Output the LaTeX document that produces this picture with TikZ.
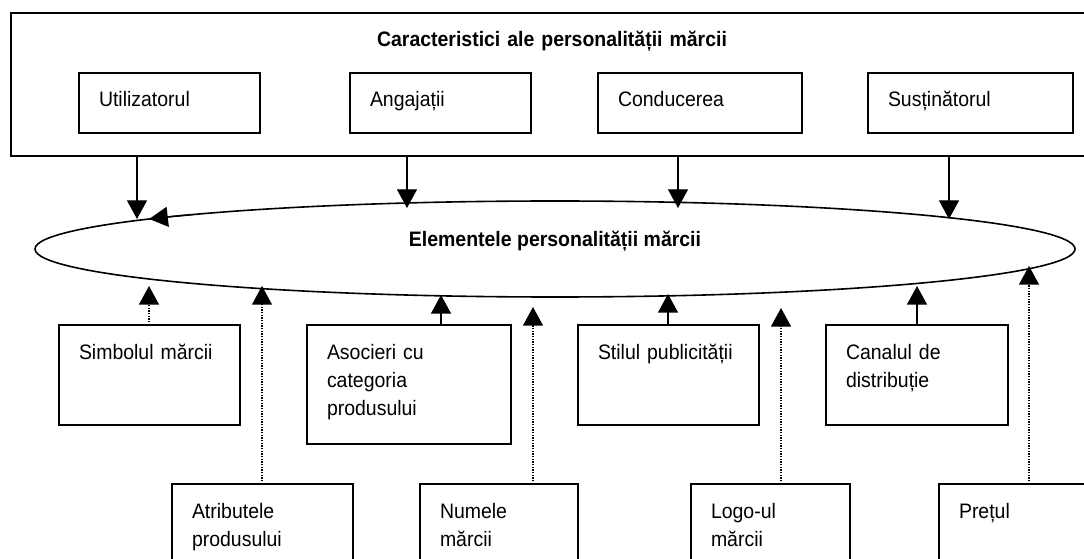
\documentclass[tikz,border=0pt]{standalone}
\usepackage{fontspec}
\setmainfont{Liberation Sans}[FakeStretch=0.93]
\usetikzlibrary{arrows.meta, shapes.geometric}

\begin{document}
\begin{tikzpicture}[x=0.75pt,y=0.75pt,yscale=-1,xscale=1,
  every node/.style={font=\fontsize{15.7pt}{21pt}\selectfont},
  bold/.style={font=\fontsize{15.7pt}{21pt}\selectfont\bfseries},
  box/.style={draw, line width=1.2pt, anchor=north west, align=left, inner xsep=15pt, inner ysep=0pt, outer sep=0pt, text height=25.5pt},
  solidarrow/.style={line width=1pt, -{Triangle[length=14pt,width=15pt]}},
  dotarrow/.style={solidarrow, dash pattern=on 0.9pt off 1.1pt}]
\clip (0,0) rectangle (1084,559);

% Text Node
\node [box, bold, align=center, inner xsep=0pt, text width=811.5pt, text height=25.1pt, text depth=82.15pt] (outer) at (11,13) {Caracteristici ale personalității mărcii};
% Text Node
\node [box, text width=105.75pt, text depth=19.5pt] (util) at (79,73) {Utilizatorul};
% Text Node
\node [box, text width=105.75pt, text depth=19.5pt] (angaj) at (350,73) {Angajații};
% Text Node
\node [box, text width=123pt, text depth=19.5pt] (cond) at (598,73) {Conducerea};
% Text Node
\node [box, text width=123.75pt, text depth=19.5pt] (sust) at (868,73) {Susținătorul};

%Shape: Ellipse
\node [draw, ellipse, line width=1.2pt, minimum width=780pt, minimum height=72pt, inner sep=0pt, outer sep=0pt, text height=10pt, text depth=13pt, bold] (elem) at (555,249) {Elementele personalității mărcii};
\draw [solidarrow] (elem.center) ++(226:520 and 48) arc [start angle=226, end angle=218.7, x radius=520, y radius=48] ;

% Text Node
\node [box, text width=105.75pt, text depth=49.5pt] (simb) at (59,325) {Simbolul mărcii};
% Text Node
\node [box, text width=123pt, text depth=63.75pt] (asoc) at (307,325) {Asocieri cu\\categoria\\produsului};
% Text Node
\node [box, text width=105.75pt, text depth=49.5pt] (stil) at (578,325) {Stilul publicității};
% Text Node
\node [box, text width=106.5pt, text depth=49.5pt] (canal) at (826,325) {Canalul de\\distribuție};

% Text Node
\node [box, text width=105.75pt, text depth=61.5pt] (atrib) at (172,484) {Atributele\\produsului};
% Text Node
\node [box, text width=88.5pt, text depth=61.5pt] (num) at (420,484) {Numele\\mărcii};
% Text Node
\node [box, text width=89.25pt, text depth=61.5pt] (logo) at (691,484) {Logo-ul\\mărcii};
% Text Node
\node [box, text width=105.75pt, text depth=61.5pt] (pret) at (939,484) {Prețul};

% arrow tips
\coordinate (tUtil) at (137,219);
\coordinate (tAngaj) at (407,208);
\coordinate (tCond) at (678,208);
\coordinate (tSust) at (949,219);
\coordinate (tSimb) at (149,286);
\coordinate (tAsoc) at (441,295);
\coordinate (tStil) at (668,294);
\coordinate (tCanal) at (917,286);
\coordinate (tAtrib) at (262,286);
\coordinate (tNum) at (533,307);
\coordinate (tLogo) at (781,308);
\coordinate (tPret) at (1029,266);

%Straight Lines
\draw [solidarrow] (tUtil |- outer.south) -- (tUtil) ;
\draw [solidarrow] (tAngaj |- outer.south) -- (tAngaj) ;
\draw [solidarrow] (tCond |- outer.south) -- (tCond) ;
\draw [solidarrow] (tSust |- outer.south) -- (tSust) ;
%Straight Lines
\draw [dotarrow] (tSimb |- simb.north) -- (tSimb) ;
\draw [solidarrow] (tAsoc |- asoc.north) -- (tAsoc) ;
\draw [solidarrow] (tStil |- stil.north) -- (tStil) ;
\draw [solidarrow] (tCanal |- canal.north) -- (tCanal) ;
%Straight Lines
\draw [dotarrow] (tAtrib |- atrib.north) -- (tAtrib) ;
\draw [dotarrow] (tNum |- num.north) -- (tNum) ;
\draw [dotarrow] (tLogo |- logo.north) -- (tLogo) ;
\draw [dotarrow] (tPret |- pret.north) -- (tPret) ;

\end{tikzpicture}
\end{document}
